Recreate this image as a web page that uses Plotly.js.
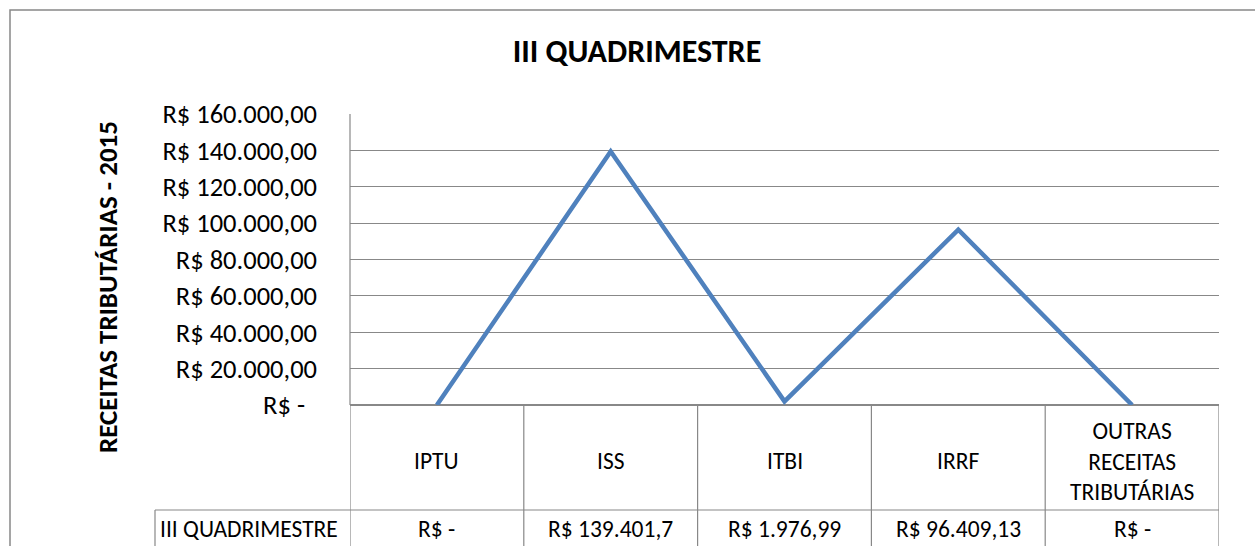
<!DOCTYPE html>
<html>
<head>
<meta charset="utf-8">
<script src="https://cdn.plot.ly/plotly-3.0.1.min.js"></script>
<style>html,body{margin:0;padding:0;background:#fff;}#chart{width:1255px;height:546px;}</style>
</head>
<body>
<div id="chart"></div>
<script>
const categories = ['IPTU', 'ISS', 'ITBI', 'IRRF', 'OUTRAS RECEITAS TRIBUTÁRIAS'];
const headerLabels = ['IPTU', 'ISS', 'ITBI', 'IRRF', 'OUTRAS<br>RECEITAS<br>TRIBUTÁRIAS'];
const seriesName = 'III QUADRIMESTRE';
const values = [0, 139401.7, 1976.99, 96409.13, 0];
const valueLabels = ['R$ -', 'R$ 139.401,7', 'R$ 1.976,99', 'R$ 96.409,13', 'R$ -'];
const tickVals = [0, 20000, 40000, 60000, 80000, 100000, 120000, 140000, 160000];
const tickText = ['R$ -\u00a0\u00a0', 'R$ 20.000,00', 'R$ 40.000,00', 'R$ 60.000,00', 'R$ 80.000,00',
  'R$ 100.000,00', 'R$ 120.000,00', 'R$ 140.000,00', 'R$ 160.000,00'];

const FONT = 'Carlito, Lato, sans-serif';
const GRID = '#888888';
const W = 1255, H = 546;
const L = 350, R = 1219, T = 114, B = 405;
const pw = R - L, ph = B - T;
const px = v => (v - L) / pw;
const py = v => (B - v) / ph;

const rowSep = 510;
const n = categories.length;
const LW = 1.2;

const shapes = [];
shapes.push({type: 'rect', xref: 'paper', yref: 'paper', x0: px(10), x1: px(1262), y0: py(10), y1: py(560),
  line: {color: GRID, width: 1.5}, layer: 'below'});
for (let i = 0; i <= n; i++) {
  shapes.push({type: 'line', xref: 'x', yref: 'paper', x0: i - 0.5, x1: i - 0.5, y0: 0, y1: py(560),
    line: {color: GRID, width: LW}});
}
shapes.push({type: 'line', xref: 'paper', yref: 'paper', x0: 0, x1: 0, y0: 0, y1: 1, line: {color: GRID, width: LW}});
shapes.push({type: 'line', xref: 'paper', yref: 'paper', x0: px(155), x1: 1, y0: py(rowSep), y1: py(rowSep),
  line: {color: GRID, width: LW}});
shapes.push({type: 'line', xref: 'paper', yref: 'paper', x0: px(155), x1: px(155), y0: py(rowSep), y1: py(560),
  line: {color: GRID, width: LW}});

const TF = 23.5;
const annotations = [];
headerLabels.forEach((c, i) => {
  annotations.push({x: categories[i], xref: 'x', y: py(461), yref: 'paper', text: c, showarrow: false,
    xanchor: 'center', yanchor: 'middle', font: {family: FONT, size: TF, color: '#000'}, align: 'center'});
  annotations.push({x: categories[i], xref: 'x', y: py(529), yref: 'paper', text: valueLabels[i], showarrow: false,
    xanchor: 'center', yanchor: 'middle', font: {family: FONT, size: TF, color: '#000'}});
});
annotations.push({x: px(158), xref: 'paper', y: py(529), yref: 'paper', text: seriesName, showarrow: false,
  xanchor: 'left', yanchor: 'middle', font: {family: FONT, size: TF, color: '#000'}});
annotations.push({x: px(107), xref: 'paper', y: py(287), yref: 'paper', text: '<b>RECEITAS TRIBUTÁRIAS - 2015</b>',
  textangle: -90, showarrow: false, xanchor: 'center', yanchor: 'middle', font: {family: FONT, size: 27, color: '#000'}});

const trace = {
  x: categories, y: values, type: 'scatter', mode: 'lines', name: seriesName,
  line: {color: '#4F81BD', width: 4.5}, hoverinfo: 'skip', cliponaxis: false
};

const layout = {
  width: W, height: H,
  margin: {l: L, r: W - R, t: T, b: H - B, pad: 0},
  paper_bgcolor: '#fff', plot_bgcolor: '#fff',
  showlegend: false,
  title: {text: '<b>III QUADRIMESTRE</b>', xref: 'container', yref: 'container', x: 637 / W, y: 1 - 51 / H,
    xanchor: 'center', yanchor: 'middle', font: {family: FONT, size: 32, color: '#000'}},
  xaxis: {type: 'category', range: [-0.5, n - 0.5], showticklabels: false, showgrid: false, zeroline: false,
    showline: false, ticks: '', fixedrange: true},
  yaxis: {range: [0, 160000], tickvals: tickVals, ticktext: tickText, showgrid: true, gridcolor: GRID, gridwidth: LW,
    zeroline: true, zerolinecolor: GRID, zerolinewidth: LW, showline: false, ticks: '', ticklen: 0,
    tickfont: {family: FONT, size: 26.5, color: '#000'}, ticklabelstandoff: 32, fixedrange: true},
  shapes: shapes,
  annotations: annotations
};

Plotly.newPlot('chart', [trace], layout, {staticPlot: true, displayModeBar: false});
</script>
</body>
</html>
